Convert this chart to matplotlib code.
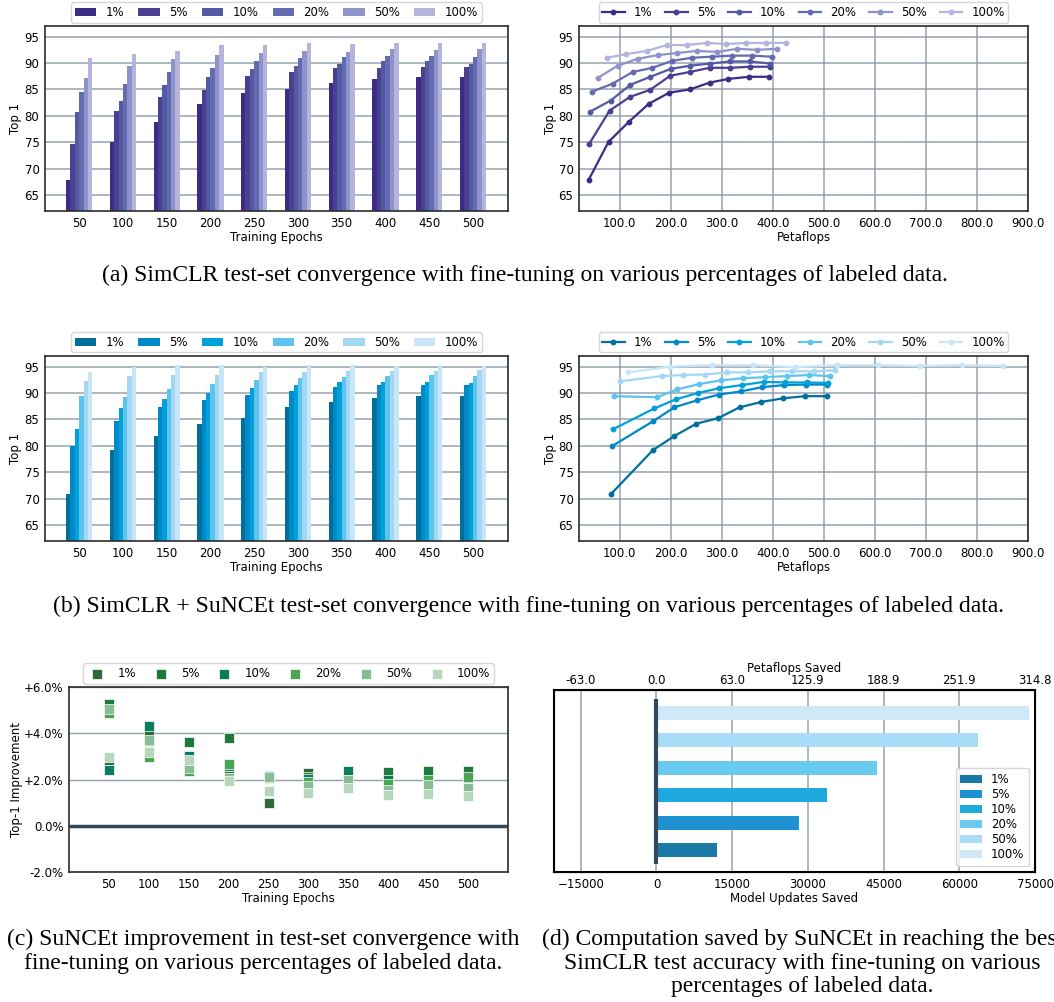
import numpy as np
import matplotlib
matplotlib.use('Agg')
import matplotlib.pyplot as plt

plt.rcParams['font.family'] = 'DejaVu Sans'
plt.rcParams['font.size'] = 8.5

# Data
epochs = [50, 100, 150, 200, 250, 300, 350, 400, 450, 500]
labels = ['1%', '5%', '10%', '20%', '50%', '100%']

# SimCLR top-1
simclr = [
    [67.9, 75.1, 78.9, 82.3, 84.4, 85.0, 86.3, 87.0, 87.4, 87.4],
    [74.7, 81.0, 83.6, 84.9, 87.6, 88.3, 89.1, 89.1, 89.3, 89.3],
    [80.8, 82.9, 85.9, 87.4, 88.9, 89.5, 89.9, 90.3, 90.3, 89.9],
    [84.6, 86.1, 88.3, 89.1, 90.4, 91.0, 91.2, 91.4, 91.4, 91.2],
    [87.2, 89.5, 90.8, 91.5, 91.9, 92.3, 92.1, 92.7, 92.5, 92.7],
    [91.0, 91.7, 92.3, 93.4, 93.4, 93.8, 93.6, 93.8, 93.8, 93.8],
]
simclr_pf = [
    [39, 78, 118, 157, 197, 237, 276, 313, 353, 392],
    [40, 80, 120, 159, 199, 237, 276, 316, 355, 394],
    [42, 82, 121, 160, 200, 238, 277, 316, 355, 395],
    [46, 86, 125, 164, 202, 241, 280, 320, 359, 398],
    [57, 96, 135, 174, 212, 252, 291, 330, 369, 408],
    [75, 113, 153, 192, 231, 270, 308, 348, 387, 426],
]

# SimCLR + SuNCEt top-1
suncet = [
    [70.8, 79.2, 81.8, 84.2, 85.2, 87.3, 88.3, 89.0, 89.4, 89.4],
    [79.9, 84.7, 87.3, 88.6, 89.7, 90.3, 91.1, 91.5, 91.6, 91.6],
    [83.1, 87.1, 88.8, 90.0, 90.9, 91.5, 92.1, 92.0, 92.0, 91.9],
    [89.4, 89.2, 90.7, 91.7, 92.4, 92.8, 93.0, 93.2, 93.4, 93.2],
    [92.2, 93.2, 93.4, 93.5, 93.9, 93.9, 94.1, 94.1, 94.1, 94.3],
    [93.9, 95.0, 95.25, 95.25, 94.9, 95.25, 95.25, 95.1, 95.25, 95.1],
]
suncet_pf = [
    [82, 165, 206, 250, 292, 335, 377, 420, 463, 506],
    [84, 166, 207, 251, 294, 337, 379, 422, 465, 507],
    [86, 168, 210, 253, 295, 339, 382, 424, 467, 509],
    [89, 173, 213, 256, 299, 342, 384, 428, 470, 512],
    [100, 182, 224, 267, 310, 352, 394, 438, 480, 522],
    [117, 199, 281, 362, 444, 526, 607, 689, 771, 852],
]

# improvement (percentage points)
improvement = [
    [2.83, 4.06, 2.95, 2.14, 0.98, 2.29, 2.04, 2.00, 2.00, 2.10],
    [5.28, 3.65, 3.61, 3.80, 2.10, 2.10, 2.10, 2.32, 2.35, 2.36],
    [2.40, 4.30, 3.00, 2.58, 2.16, 2.04, 2.39, 2.00, 1.90, 2.07],
    [4.88, 2.98, 2.35, 2.66, 2.05, 1.90, 2.00, 1.80, 2.00, 2.10],
    [5.04, 3.70, 2.52, 2.07, 2.09, 1.74, 1.97, 1.54, 1.76, 1.63],
    [2.98, 3.19, 2.83, 1.93, 1.51, 1.44, 1.65, 1.33, 1.37, 1.27],
]

# model updates saved
updates_saved = [12000, 28200, 33800, 43600, 63800, 73900]
update_ticks = [-15000, 0, 15000, 30000, 45000, 60000, 75000]
petaflop_ticks = ['-63.0', '0.0', '63.0', '125.9', '188.9', '251.9', '314.8']

purples = ['#3d2c85', '#4b3f90', '#5459a4', '#646cb1', '#8e94cb', '#b4b4dc']
blues = ['#006f9c', '#0089c9', '#00a1d9', '#5cc4ee', '#a3d8f5', '#c9e6f8']
greens = ['#2c6a3b', '#1e7a3c', '#0a7e5c', '#4aa552', '#88bc94', '#b6d7bb']
blues_d = ['#1a7aa6', '#1e92d1', '#1fa9dd', '#6bcaf0', '#a8dbf6', '#d0e9f8']

grid_col = '#8795a3'
spine_col = '#2b2b2b'


def style_axes(ax):
    for s in ax.spines.values():
        s.set_color(spine_col)
        s.set_linewidth(1.2)
    ax.tick_params(length=0, pad=4)
    ax.set_axisbelow(True)


def top_legend(ax, hl, cs):
    ax.legend(loc='lower center', bbox_to_anchor=(0.5, 1.0), ncol=6,
              handlelength=hl, columnspacing=cs, borderaxespad=0.3,
              borderpad=0.3, fontsize=8.5)


def bar_panel(ax, data, colors):
    x = np.arange(len(epochs))
    w = 0.1
    for i, (vals, c) in enumerate(zip(data, colors)):
        ax.bar(x + (i - 2.5) * w, vals, w, color=c, label=labels[i])
    ax.set_xticks(x)
    ax.set_xticklabels(epochs)
    ax.set_xlim(-0.78, 9.8)
    ax.set_ylim(62, 97)
    ax.set_yticks([65, 70, 75, 80, 85, 90, 95])
    ax.yaxis.grid(True, color=grid_col, lw=1.2, alpha=0.8)
    ax.set_xlabel('Training Epochs', labelpad=1)
    ax.set_ylabel('Top 1')
    ax.yaxis.set_label_coords(-0.05, 0.5)
    style_axes(ax)
    top_legend(ax, 1.8, 1.2)


def line_panel(ax, pf, data, colors):
    for i, c in enumerate(colors):
        ax.plot(pf[i], data[i], '-o', color=c, lw=1.6, ms=3.2, label=labels[i])
    ax.set_xlim(20, 900)
    ax.set_xticks([100, 200, 300, 400, 500, 600, 700, 800, 900])
    ax.set_xticklabels(['%.1f' % t for t in ax.get_xticks()])
    ax.set_ylim(62, 97)
    ax.set_yticks([65, 70, 75, 80, 85, 90, 95])
    ax.grid(True, color=grid_col, lw=1.2, alpha=0.8)
    ax.set_xlabel('Petaflops', labelpad=1)
    ax.set_ylabel('Top 1')
    ax.yaxis.set_label_coords(-0.049, 0.5)
    style_axes(ax)
    top_legend(ax, 1.9, 1.07)


fig = plt.figure(figsize=(10.54, 10.02), dpi=100)

ax_a1 = fig.add_axes([0.0427, 0.7894, 0.4393, 0.1846])
ax_a2 = fig.add_axes([0.5493, 0.7894, 0.4260, 0.1846])
ax_b1 = fig.add_axes([0.0427, 0.4601, 0.4393, 0.1846])
ax_b2 = fig.add_axes([0.5493, 0.4601, 0.4260, 0.1846])
ax_c = fig.add_axes([0.0655, 0.1297, 0.4165, 0.1846])
ax_d = fig.add_axes([0.5256, 0.1297, 0.4564, 0.1816])

bar_panel(ax_a1, simclr, purples)
line_panel(ax_a2, simclr_pf, simclr, purples)
bar_panel(ax_b1, suncet, blues)
line_panel(ax_b2, suncet_pf, suncet, blues)

# (c) improvement scatter
for i, c in enumerate(greens):
    ax_c.scatter(epochs, improvement[i], marker='s', s=42, color=c,
                 edgecolors='white', linewidths=0.5, label=labels[i], zorder=3)
ax_c.axhline(0, color='#34495e', lw=2.5, zorder=2)
ax_c.set_xlim(0, 550)
ax_c.set_xticks(epochs)
ax_c.set_ylim(-2, 6)
ax_c.set_yticks([-2, 0, 2, 4, 6])
ax_c.set_yticklabels(['-2.0%', '0.0%', '+2.0%', '+4.0%', '+6.0%'])
ax_c.yaxis.grid(True, color=grid_col, lw=1.0, alpha=0.9)
ax_c.set_xlabel('Training Epochs', labelpad=1)
ax_c.set_ylabel('Top-1 Improvement')
ax_c.yaxis.set_label_coords(-0.105, 0.5)
style_axes(ax_c)
top_legend(ax_c, 1.8, 1.2)

# (d) computation saved
ypos = np.arange(len(labels))
for i, c in enumerate(blues_d):
    ax_d.barh(ypos[i], updates_saved[i], 0.5, color=c, label=labels[i])
ax_d.vlines(0, -0.5, 5.5, color='#34495e', lw=3, zorder=3)
ax_d.set_xlim(-20300, 75000)
ax_d.set_ylim(-0.8, 5.83)
ax_d.set_xticks(update_ticks)
ax_d.set_yticks([])
ax_d.xaxis.grid(True, color=grid_col, lw=1.2, alpha=0.8)
ax_d.set_xlabel('Model Updates Saved', labelpad=1)
style_axes(ax_d)
for s in ax_d.spines.values():
    s.set_linewidth(1.5)
    s.set_color('black')
ax_d.legend(loc='lower right', fontsize=8.5, handlelength=1.8,
            labelspacing=0.18, borderaxespad=0.5)
ax_top = ax_d.twiny()
ax_top.set_xlim(ax_d.get_xlim())
ax_top.set_xticks(update_ticks)
ax_top.set_xticklabels(petaflop_ticks)
ax_top.tick_params(length=0, pad=2)
ax_top.set_xlabel('Petaflops Saved', labelpad=2)

# captions
cap = dict(family='Liberation Serif', fontsize=17, ha='center')
fig.text(0.498, 0.7255, '(a) SimCLR test-set convergence with fine-tuning on various percentages of labeled data.',
         va='center', **cap)
fig.text(0.501, 0.3952, '(b) SimCLR + SuNCEt test-set convergence with fine-tuning on various percentages of labeled data.',
         va='center', **cap)
fig.text(0.25, 0.073, '(c) SuNCEt improvement in test-set convergence with\nfine-tuning on various percentages of labeled data.',
         va='top', linespacing=1.16, **cap)
fig.text(0.761, 0.073, '(d) Computation saved by SuNCEt in reaching the best\nSimCLR test accuracy with fine-tuning on various\npercentages of labeled data.',
         va='top', linespacing=1.16, **cap)

fig.savefig('out.png', dpi=100)
